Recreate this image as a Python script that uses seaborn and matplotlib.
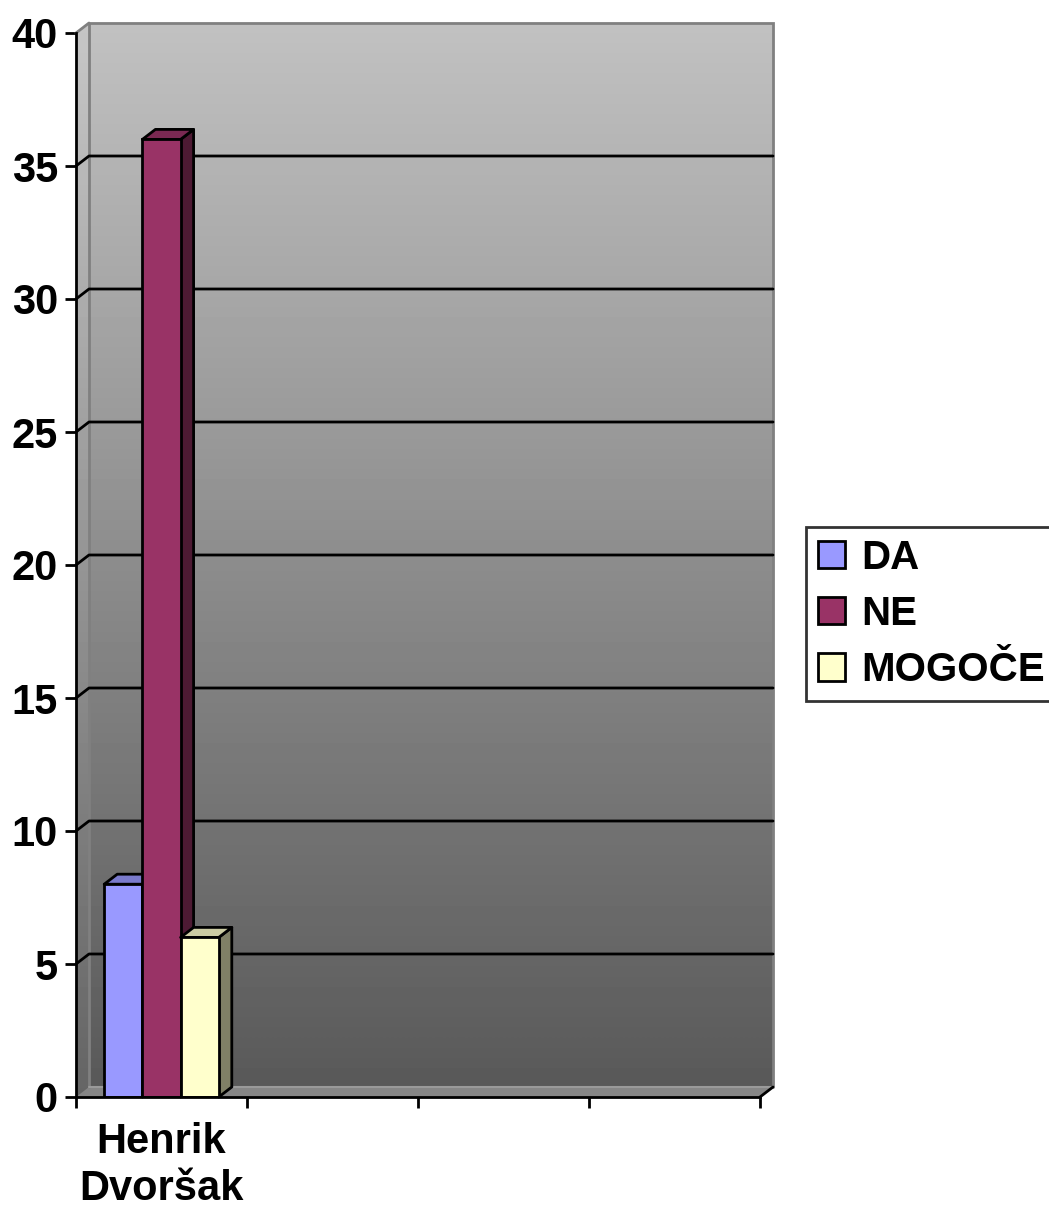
import numpy as np
import pandas as pd
import matplotlib
matplotlib.use("Agg")
import matplotlib.pyplot as plt
from matplotlib.patches import Polygon
import seaborn as sns

# ---- data ----
categories = ["Henrik\nDvoršak", " ", "  ", "   "]
series = ["DA", "NE", "MOGOČE"]
da_values = [8]
ne_values = [36]
mogoce_values = [6]
y_ticks = [0, 5, 10, 15, 20, 25, 30, 35, 40]

front_colors = ["#9999FF", "#993366", "#FFFFCC"]
top_colors = ["#7A7ACC", "#7A2952", "#CCCCA3"]
side_colors = ["#4D4D80", "#4D1A33", "#808066"]

df = pd.DataFrame({
    "category": [categories[0]] * 3,
    "series": series,
    "value": [da_values[0], ne_values[0], mogoce_values[0]],
})

sns.set_style("white")
plt.rcParams["font.family"] = ["Liberation Sans", "DejaVu Sans"]
plt.rcParams["font.weight"] = "bold"
plt.rcParams["text.color"] = "black"

FS = 30
FS_LEG = 29
W, H, DPI = 1049, 1213, 100
fig = plt.figure(figsize=(W / DPI, H / DPI), dpi=DPI)
L, B, AW, AH = 76, 1213 - 1097, 760 - 76, 1097 - 33
ax = fig.add_axes([L / W, B / H, AW / W, AH / H])
ax.patch.set_visible(False)

XMIN, XMAX, YMIN, YMAX = -0.5, 3.5, 0, 40
# depth offset in data units (13 px right, 10 px up)
dx = 13 / AW * (XMAX - XMIN)
dy = 10 / AH * (YMAX - YMIN)

# walls: gradient
grad = np.linspace(193, 88, 256).reshape(-1, 1)
img = ax.imshow(grad, cmap="gray", vmin=0, vmax=255, aspect="auto",
                extent=(XMIN, XMAX + dx, YMIN, YMAX + dy), origin="upper",
                interpolation="bilinear", zorder=0)
wall_poly = Polygon([(XMIN, YMIN), (XMAX, YMIN), (XMAX + dx, YMIN + dy),
                     (XMAX + dx, YMAX + dy), (XMIN + dx, YMAX + dy), (XMIN, YMAX)],
                    closed=True, transform=ax.transData, facecolor="none", edgecolor="none")
ax.add_patch(wall_poly)
img.set_clip_box(fig.bbox)
img.set_clip_path(wall_poly)

# floor
floor = Polygon([(XMIN, YMIN), (XMAX, YMIN), (XMAX + dx, YMIN + dy), (XMIN + dx, YMIN + dy)],
                closed=True, facecolor="#868686", edgecolor="none", zorder=0.5, clip_on=False)
ax.add_patch(floor)
# left wall slightly lighter
lwall = Polygon([(XMIN, YMIN), (XMIN + dx, YMIN + dy), (XMIN + dx, YMAX + dy), (XMIN, YMAX)],
                closed=True, facecolor="white", alpha=0.08, edgecolor="none", zorder=0.5, clip_on=False)
ax.add_patch(lwall)

# back wall border
ax.plot([XMIN + dx, XMIN + dx, XMAX + dx, XMAX + dx],
        [YMIN + dy, YMAX + dy, YMAX + dy, YMIN + dy],
        color="#808080", lw=2.0, zorder=1, clip_on=False, solid_joinstyle="miter")
ax.plot([XMIN, XMIN + dx], [YMAX, YMAX + dy], color="#808080", lw=2.0, zorder=1, clip_on=False)
ax.plot([XMIN + dx, XMAX + dx], [YMIN + dy, YMIN + dy], color="#9A9A9A", lw=1.5, zorder=1, clip_on=False)

# gridlines on back wall
for yv in y_ticks[1:-1]:
    ax.plot([XMIN, XMIN + dx, XMAX + dx], [yv, yv + dy, yv + dy],
            color="black", lw=2.0, zorder=1, clip_on=False)
ax.plot([XMAX, XMAX + dx], [YMIN, YMIN + dy], color="black", lw=2.0, zorder=1, clip_on=False)

# bars
sns.barplot(data=df, x="category", y="value", hue="series", order=categories,
            hue_order=series, palette=front_colors, width=0.67, saturation=1,
            edgecolor="black", linewidth=2.0, legend=True, ax=ax, zorder=3)

bars = [p for p in ax.patches if p not in (wall_poly, floor, lwall)]
bars = [p for p in bars if p.get_height() > 0]
bars.sort(key=lambda p: p.get_x())
for i, p in enumerate(bars):
    x0 = p.get_x()
    x1 = x0 + p.get_width()
    h = p.get_height()
    hexc = matplotlib.colors.to_hex(p.get_facecolor()).upper()
    idx = front_colors.index(hexc) if hexc in front_colors else i
    z = 3 + i
    p.set_zorder(z + 0.5)
    top = Polygon([(x0, h), (x1, h), (x1 + dx, h + dy), (x0 + dx, h + dy)], closed=True,
                  facecolor=top_colors[idx], edgecolor="black", lw=2.0, zorder=z, clip_on=False,
                  joinstyle="round")
    side = Polygon([(x1, 0), (x1 + dx, dy), (x1 + dx, h + dy), (x1, h)], closed=True,
                   facecolor=side_colors[idx], edgecolor="black", lw=2.0, zorder=z, clip_on=False,
                   joinstyle="round")
    ax.add_patch(side)
    ax.add_patch(top)

ax.set_xlim(XMIN, XMAX)
ax.set_ylim(YMIN, YMAX)
ax.set_xlabel("")
ax.set_ylabel("")

# axes / ticks
for s in ["top", "right"]:
    ax.spines[s].set_visible(False)
for s in ["left", "bottom"]:
    ax.spines[s].set_color("black")
    ax.spines[s].set_linewidth(2.0)
    ax.spines[s].set_zorder(10)

ax.set_yticks(y_ticks)
ax.set_yticklabels([str(v) for v in y_ticks], fontsize=FS, fontweight="bold", color="black")
ax.set_xticks(np.arange(XMIN, XMAX + 0.01, 1.0))
ax.set_xticklabels([""] * 5)
ax.set_xticks(np.arange(len(categories)), minor=True)
ax.set_xticklabels(categories, minor=True, fontsize=FS, fontweight="bold", linespacing=1.22,
                   color="black")
ax.tick_params(axis="y", which="major", direction="out", length=8, width=2.0, pad=5,
               left=True, colors="black")
ax.tick_params(axis="x", which="major", direction="out", length=8, width=2.0,
               bottom=True, colors="black")
ax.tick_params(axis="x", which="minor", length=0, pad=18, bottom=True, colors="black")

# legend
handles, labels = ax.get_legend_handles_labels()
leg = ax.legend(handles, labels, loc="center left", bbox_to_anchor=(806 / W, (1213 - 614) / H),
                bbox_transform=fig.transFigure, frameon=True, fancybox=False, shadow=False,
                prop={"family": "Liberation Sans", "weight": "bold", "size": FS_LEG},
                handlelength=0.66, handleheight=0.66, handletextpad=0.4, labelspacing=0.45,
                borderpad=0.3, borderaxespad=0)
leg.get_frame().set_edgecolor("black")
leg.get_frame().set_linewidth(2.0)
leg.set_zorder(20)
for t in leg.get_texts():
    t.set_color("black")
for hnd in leg.legend_handles:
    hnd.set_edgecolor("black")
    hnd.set_linewidth(2.0)

fig.savefig("out.png", dpi=DPI)
